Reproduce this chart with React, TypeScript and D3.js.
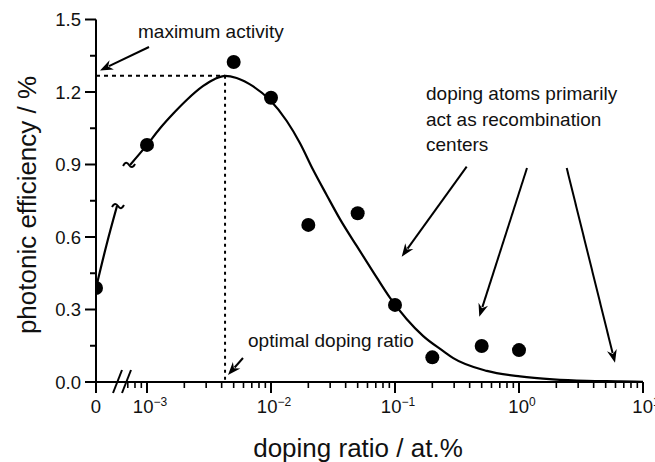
import React from "react";
import * as d3 from "d3";

// ---------- data ----------
const zeroDopingX = [0];
const zeroDopingY = [0.389];

const dopingX = [1e-3, 5e-3, 1e-2, 2e-2, 5e-2, 0.1, 0.2, 0.5, 1];
const efficiencyY = [0.981, 1.324, 1.176, 0.65, 0.698, 0.319, 0.102, 0.149, 0.132];

// fitted curve
const fitLeftX = [0, 1e-4, 2e-4];
const fitLeftY = [0.389, 0.567, 0.728];
const fitX = [7.3e-4, 1.0e-3, 1.27e-3, 1.63e-3, 2.09e-3, 2.84e-3, 3.53e-3, 4.26e-3, 5.28e-3, 7.19e-3, 9.82e-3, 1.34e-2, 1.71e-2, 2.19e-2, 2.81e-2, 3.6e-2, 4.91e-2, 6.68e-2, 9.12e-2, 0.124, 0.169, 0.245, 0.295, 0.55, 1.02, 1.88, 3.52, 6.53, 10];
const fitY = [0.898, 0.981, 1.049, 1.111, 1.167, 1.225, 1.254, 1.267, 1.258, 1.223, 1.167, 1.08, 0.989, 0.877, 0.774, 0.674, 0.563, 0.455, 0.348, 0.261, 0.19, 0.128, 0.099, 0.046, 0.023, 0.011, 0.005, 0.003, 0.001];

const optimumX = 4.26e-3;
const optimumY = 1.267;

const yTicks = [0, 0.3, 0.6, 0.9, 1.2, 1.5];
const yMinorTicks = [0.15, 0.45, 0.75, 1.05, 1.35];
const xDecades = [-3, -2, -1, 0, 1];
const xPreMinor = [7e-4, 8e-4, 9e-4];

const annotationLines = ["doping atoms primarily", "act as recombination", "centers"];

// ---------- layout ----------
const W = 655;
const H = 462;
const FONT = "'Liberation Sans', Arial, Helvetica, sans-serif";

export default function App() {
  const y = d3.scaleLinear().domain([0, 1.5]).range([382, 19.5]);
  const xLog = d3.scaleLog().domain([1e-3, 10]).range([147, 643]);
  const xLin = d3.scaleLinear().domain([0, 2e-4]).range([96, 117]);
  const x0 = xLin(0);
  const y0 = y(0);

  const lineRight = d3
    .line<number>()
    .x((_, i) => xLog(fitX[i]))
    .y((d) => y(d))
    .curve(d3.curveMonotoneX);
  const lineLeft = d3
    .line<number>()
    .x((_, i) => xLin(fitLeftX[i]))
    .y((d) => y(d))
    .curve(d3.curveMonotoneX);

  const minorTicks: number[] = [...xPreMinor];
  for (let e = -3; e < 1; e++) {
    for (let m = 2; m <= 9; m++) minorTicks.push(m * Math.pow(10, e));
  }

  const tilde = (cx: number, cy: number) =>
    `M${cx - 6},${cy + 1} c2,-4 4,-4 6,-1 s4,3 6,-1`;

  const arrow = (x1: number, y1: number, x2: number, y2: number, key: string) => {
    const ang = Math.atan2(y2 - y1, x2 - x1);
    const L = 13;
    const hw = 5;
    const bx = x2 - L * Math.cos(ang);
    const by = y2 - L * Math.sin(ang);
    const px = -Math.sin(ang) * hw;
    const py = Math.cos(ang) * hw;
    return (
      <g key={key}>
        <line x1={x1} y1={y1} x2={bx + 3 * Math.cos(ang)} y2={by + 3 * Math.sin(ang)} stroke="#000" strokeWidth={2} />
        <path d={`M${x2},${y2} L${bx + px},${by + py} L${bx + 4 * Math.cos(ang)},${by + 4 * Math.sin(ang)} L${bx - px},${by - py} Z`} fill="#000" />
      </g>
    );
  };

  const rightStart = { x: xLog(fitX[0]), y: y(fitY[0]) };
  const leftEnd = { x: xLin(fitLeftX[fitLeftX.length - 1]), y: y(fitLeftY[fitLeftY.length - 1]) };

  return (
    <svg
      width={W}
      height={H}
      viewBox={`0 0 ${W} ${H}`}
      style={{ position: "absolute", left: 0, top: 0, background: "#fff" }}
      fontFamily={FONT}
    >
      <defs>
        <clipPath id="plotClip">
          <rect x={x0} y={0} width={W - x0} height={H} />
        </clipPath>
      </defs>
      <rect width={W} height={H} fill="#fff" />

      {/* y axis */}
      <line x1={x0} y1={y(1.5)} x2={x0} y2={y0} stroke="#000" strokeWidth={2} />
      {yTicks.map((t) => (
        <g key={"yt" + t}>
          <line x1={x0 - 11} x2={x0} y1={y(t)} y2={y(t)} stroke="#000" strokeWidth={2} />
          <text x={81} y={y(t) + 6.5} textAnchor="end" fontSize={18.5} fill="#111">
            {t.toFixed(1)}
          </text>
        </g>
      ))}
      {yMinorTicks.map((t) => (
        <line key={"ym" + t} x1={x0 - 6} x2={x0} y1={y(t)} y2={y(t)} stroke="#000" strokeWidth={2} />
      ))}

      {/* x axis */}
      <line x1={x0} y1={y0} x2={xLog(10)} y2={y0} stroke="#000" strokeWidth={2} />
      <line x1={x0} x2={x0} y1={y0} y2={y0 + 11} stroke="#000" strokeWidth={2} />
      {xDecades.map((e) => (
        <line key={"xt" + e} x1={xLog(Math.pow(10, e))} x2={xLog(Math.pow(10, e))} y1={y0} y2={y0 + 11} stroke="#000" strokeWidth={2} />
      ))}
      {minorTicks.map((t, i) => (
        <line key={"xm" + i} x1={xLog(t)} x2={xLog(t)} y1={y0} y2={y0 + 6} stroke="#000" strokeWidth={1.6} />
      ))}
      {/* axis break */}
      <line x1={113} y1={393} x2={122} y2={370} stroke="#000" strokeWidth={2} />
      <line x1={122} y1={393} x2={131} y2={370} stroke="#000" strokeWidth={2} />

      {/* x tick labels */}
      <text x={x0} y={413} textAnchor="middle" fontSize={18.5} fill="#111">0</text>
      {xDecades.map((e) => (
        <text key={"xl" + e} x={xLog(Math.pow(10, e)) + 3} y={413} textAnchor="middle" fontSize={18.5} fill="#111">
          10
          <tspan fontSize={12} dy={-7}>{e < 0 ? "\u2212" + Math.abs(e) : String(e)}</tspan>
        </text>
      ))}

      {/* axis titles */}
      <text x={358} y={457} textAnchor="middle" fontSize={26} fill="#111">
        doping ratio / at.%
      </text>
      <text transform="translate(36,205) rotate(-90)" textAnchor="middle" fontSize={26} fill="#111">
        photonic efficiency / %
      </text>

      {/* optimum guide lines */}
      <line x1={x0} x2={xLog(optimumX)} y1={y(optimumY)} y2={y(optimumY)} stroke="#000" strokeWidth={2} strokeDasharray="4,4" />
      <line x1={xLog(optimumX)} x2={xLog(optimumX)} y1={y(optimumY)} y2={y0} stroke="#000" strokeWidth={2} strokeDasharray="3,4" />

      {/* fitted curve */}
      <path d={lineLeft(fitLeftY) || ""} fill="none" stroke="#000" strokeWidth={2.2} />
      <path d={lineRight(fitY) || ""} fill="none" stroke="#000" strokeWidth={2.2} />
      <path d={tilde(leftEnd.x + 1, leftEnd.y)} fill="none" stroke="#000" strokeWidth={2} />
      <path d={tilde(rightStart.x - 1, rightStart.y)} fill="none" stroke="#000" strokeWidth={2} />

      {/* data points */}
      <g clipPath="url(#plotClip)">
        {zeroDopingX.map((d, i) => (
          <circle key={"z" + i} cx={xLin(d)} cy={y(zeroDopingY[i])} r={7} fill="#000" />
        ))}
      </g>
      {dopingX.map((d, i) => (
        <circle key={"p" + i} cx={xLog(d)} cy={y(efficiencyY[i])} r={7} fill="#000" />
      ))}

      {/* annotations */}
      <text x={138} y={38} fontSize={19} fill="#111">maximum activity</text>
      {arrow(149, 47, 100, 70.5, "a1")}
      <text x={248} y={347} fontSize={19} fill="#111">optimal doping ratio</text>
      {arrow(243, 358, 228, 375, "a2")}
      {annotationLines.map((s, i) => (
        <text key={"an" + i} x={426} y={100 + i * 25.5} fontSize={19} fill="#111">
          {s}
        </text>
      ))}
      {arrow(466.7, 166.7, 401.7, 256.7, "a3")}
      {arrow(527, 168, 479.3, 316.7, "a4")}
      {arrow(566.7, 168, 615, 362.7, "a5")}
    </svg>
  );
}
